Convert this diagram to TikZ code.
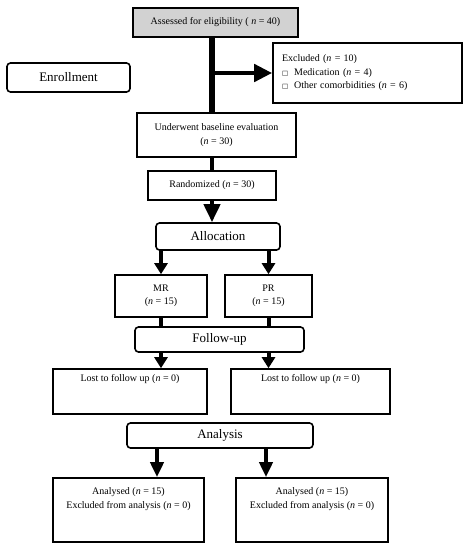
\documentclass[tikz,border=0pt]{standalone}
\usepackage{fontspec}
\setmainfont{Liberation Serif}
\newfontfamily\symfont{DejaVu Sans}
\usetikzlibrary{arrows.meta,positioning}
\newcommand{\nn}{\textit{n}}
\newcommand{\sqbox}{{\symfont\fontsize{6.5}{7}\selectfont □}\hspace{6pt}}
\tikzset{
    box/.style={
           rectangle,
           draw=black, line width=1.6pt,
           inner sep=2pt,
           align=center,
           font=\fontsize{10}{13.5}\selectfont,
           },
    phase/.style={
           rectangle,
           rounded corners=3.5pt,
           draw=black, line width=1.6pt,
           font=\fontsize{13}{15}\selectfont,
           },
    inlabel/.style={
           anchor=north,
           inner sep=0pt,
           align=center,
           font=\fontsize{10}{14}\selectfont,
           },
    flow/.style={line width=4pt},
    bigarrow/.style={-{Triangle[length=18pt,width=17pt]}, line width=4.5pt},
    smallarrow/.style={-{Triangle[length=11pt,width=13pt]}, line width=4pt},
}

\begin{document}
\begin{tikzpicture}[x=1pt,y=-1pt]

    \useasboundingbox (0,0) rectangle (470,550);

    % enrollment
    \node[box,fill=gray!35,minimum width=165pt,minimum height=29pt]
        (assess) at (215.5,22.5) {Assessed for eligibility ( \nn{} = 40)};
    \node[box,align=left,text width=171pt,inner xsep=9pt,minimum height=60pt]
        (excluded) at (367.5,73) {Excluded (\nn{} = 10)\\
        \sqbox Medication (\nn{} = 4)\\
        \sqbox Other comorbidities (\nn{} = 6)};
    \node[phase,minimum width=123pt,minimum height=29pt]
        (enroll) at (68.5,77.5) {Enrollment};
    \node[box,minimum width=159pt,minimum height=44pt]
        (baseline) at (216.5,135) {Underwent baseline evaluation\\(\nn{} = 30)};
    \node[box,minimum width=128pt,minimum height=29pt]
        (random) at (212,185.5) {Randomized (\nn{} = 30)};

    % allocation
    \node[phase,minimum width=124pt,minimum height=27pt]
        (alloc) at (218,236.5) {Allocation};
    \node[box,minimum width=92pt,minimum height=42pt]
        (mr) at (161,296) {MR\\(\nn{} = 15)};
    \node[box,minimum width=87pt,minimum height=42pt]
        (pr) at (268.5,296) {PR\\(\nn{} = 15)};

    % follow-up
    \node[phase,minimum width=169pt,minimum height=25pt]
        (follow) at (219.5,339.5) {Follow-up};
    \node[box,minimum width=154pt,minimum height=45pt,
          label={[inlabel,yshift=-6pt]north:Lost to follow up (\nn{} = 0)}]
        (lostmr) at (130,391.5) {};
    \node[box,minimum width=159pt,minimum height=45pt,
          label={[inlabel,yshift=-6pt]north:Lost to follow up (\nn{} = 0)}]
        (lostpr) at (310.5,391.5) {};

    % analysis
    \node[phase,minimum width=186pt,minimum height=25pt]
        (analysis) at (220,435.5) {Analysis};
    \node[box,minimum width=151pt,minimum height=64pt,
          label={[inlabel,yshift=-10pt]north:Analysed (\nn{} = 15)\\Excluded from analysis (\nn{} = 0)}]
        (anamr) at (128.5,510) {};
    \node[box,minimum width=152pt,minimum height=64pt,
          label={[inlabel,yshift=-10pt]north:Analysed (\nn{} = 15)\\Excluded from analysis (\nn{} = 0)}]
        (anapr) at (312,510) {};

    \coordinate (branch) at (random.north |- excluded.west);

    \draw[line width=6pt] (random.north |- assess.south) -- (random.north |- baseline.north);
    \draw[bigarrow] (branch) -- (excluded.west);
    \draw[flow] (random.north |- baseline.south) -- (random.north);
    \draw[bigarrow,line width=4pt,-{Triangle[length=18pt,width=16pt]}] (random.south) -- (random.south |- alloc.north);

    \draw[smallarrow] (mr.north |- alloc.south) -- (mr.north);
    \draw[smallarrow] (pr.north |- alloc.south) -- (pr.north);
    \draw[flow] (mr.south) -- (mr.south |- follow.north);
    \draw[flow] (pr.south) -- (pr.south |- follow.north);
    \draw[smallarrow] (mr.south |- follow.south) -- (mr.south |- lostmr.north);
    \draw[smallarrow] (pr.south |- follow.south) -- (pr.south |- lostpr.north);

    \draw[smallarrow,-{Triangle[length=15pt,width=13pt]}] ([xshift=-63pt]analysis.south) -- ([xshift=-63pt]analysis.south |- anamr.north);
    \draw[smallarrow,-{Triangle[length=15pt,width=13pt]}] ([xshift=46pt]analysis.south) -- ([xshift=46pt]analysis.south |- anapr.north);

\end{tikzpicture}
\end{document}
